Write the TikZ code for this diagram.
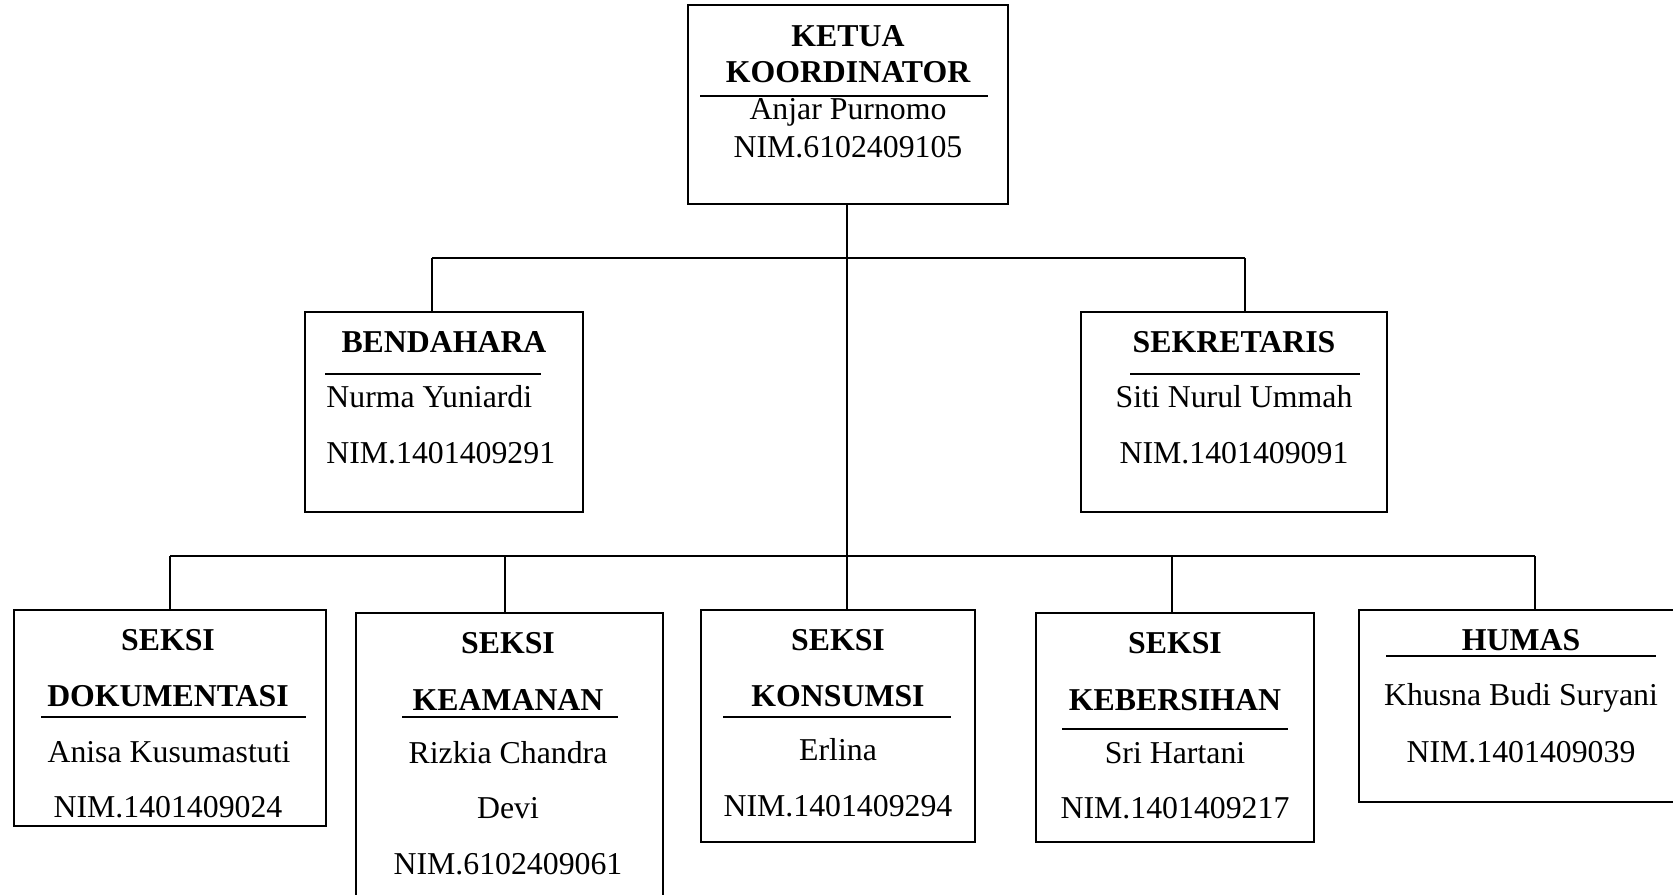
\documentclass[tikz,border=0pt]{standalone}
\usepackage{fontspec}
\setmainfont{Liberation Serif}
\begin{document}
\begin{tikzpicture}[x=0.5pt,y=-0.5pt,
  box/.style={draw, line width=1pt, inner sep=0pt, rectangle},
  txt/.style={inner sep=0pt, anchor=base, font=\fontsize{15.9}{19}\selectfont},
  ttl/.style={txt, font=\fontsize{15.9}{19}\selectfont\bfseries},
  ltxt/.style={txt, anchor=base west},
  uline/.style={line width=1pt},
  conn/.style={line width=1pt}]
\useasboundingbox (0,0) rectangle (1673,894);

% boxes
\node[box, minimum width=160pt, minimum height=99.5pt] (ketua) at (848,104.5) {};
\node[box, minimum width=139pt, minimum height=100pt] (bend) at (444,412) {};
\node[box, minimum width=153pt, minimum height=100pt] (sekr) at (1234,412) {};
\node[box, minimum width=156pt, minimum height=108pt] (doku) at (170,718) {};
\node[box, minimum width=153.5pt, minimum height=148.5pt] (keam) at (509.5,761.5) {};
\node[box, minimum width=137pt, minimum height=116pt] (kons) at (838,726) {};
\node[box, minimum width=139pt, minimum height=114.5pt] (kebe) at (1175,727.5) {};
\node[box, minimum width=163pt, minimum height=96pt] (humas) at (1522,706) {};

% connector coordinates
\coordinate (j1) at (847,258);
\coordinate (bl) at (432,258);
\coordinate (br) at (1245,258);
\coordinate (h1) at (170,556);
\coordinate (h2) at (505,556);
\coordinate (h4) at (1172,556);
\coordinate (h5) at (1535,556);

\draw[conn] (j1 |- ketua.south) -- (j1 |- kons.north);
\draw[conn] (bl) -- (br);
\draw[conn] (bl) -- (bl |- bend.north);
\draw[conn] (br) -- (br |- sekr.north);
\draw[conn] (h1) -- (h5);
\draw[conn] (h1) -- (h1 |- doku.north);
\draw[conn] (h2) -- (h2 |- keam.north);
\draw[conn] (h4) -- (h4 |- kebe.north);
\draw[conn] (h5) -- (h5 |- humas.north);

% ketua
\node[ttl] (k1) at (848,46) {KETUA};
\node[ttl] (k2) at (848,82) {KOORDINATOR};
\draw[uline] (700,96) -- (988,96);
\node[txt] (k3) at (848,119) {Anjar Purnomo};
\node[txt] (k4) at (848,157) {NIM.6102409105};

% bendahara
\node[ttl] (b1) at (444,352) {BENDAHARA};
\draw[uline] (325,374) -- (541,374);
\node[ltxt] (b2) at (326,407) {Nurma Yuniardi};
\node[ltxt] (b3) at (326,463) {NIM.1401409291};

% sekretaris
\node[ttl] (s1) at (1234,352) {SEKRETARIS};
\draw[uline] (1130,374) -- (1360,374);
\node[txt] (s2) at (1234,407) {Siti Nurul Ummah};
\node[txt] (s3) at (1234,463) {NIM.1401409091};

% dokumentasi
\node[ttl] (d1) at (168,650) {SEKSI};
\node[ttl] (d2) at (168,706) {DOKUMENTASI};
\draw[uline] (41,717) -- (306,717);
\node[txt] (d3) at (169,762) {Anisa Kusumastuti};
\node[txt] (d4) at (168,817) {NIM.1401409024};

% keamanan
\node[ttl] (e1) at (508,653) {SEKSI};
\node[ttl] (e2) at (508,710) {KEAMANAN};
\draw[uline] (402,717) -- (618,717);
\node[txt] (e3) at (508,763) {Rizkia Chandra};
\node[txt] (e4) at (508,818) {Devi};
\node[txt] (e5) at (508,874) {NIM.6102409061};

% konsumsi
\node[ttl] (n1) at (838,650) {SEKSI};
\node[ttl] (n2) at (838,706) {KONSUMSI};
\draw[uline] (723,717) -- (951,717);
\node[txt] (n3) at (838,760) {Erlina};
\node[txt] (n4) at (838,816) {NIM.1401409294};

% kebersihan
\node[ttl] (r1) at (1175,653) {SEKSI};
\node[ttl] (r2) at (1175,710) {KEBERSIHAN};
\draw[uline] (1062,729) -- (1288,729);
\node[txt] (r3) at (1175,763) {Sri Hartani};
\node[txt] (r4) at (1175,818) {NIM.1401409217};

% humas
\node[ttl] (u1) at (1521,650) {HUMAS};
\draw[uline] (1386,656) -- (1656,656);
\node[txt] (u2) at (1521,705) {Khusna Budi Suryani};
\node[txt] (u3) at (1521,762) {NIM.1401409039};
\end{tikzpicture}
\end{document}
